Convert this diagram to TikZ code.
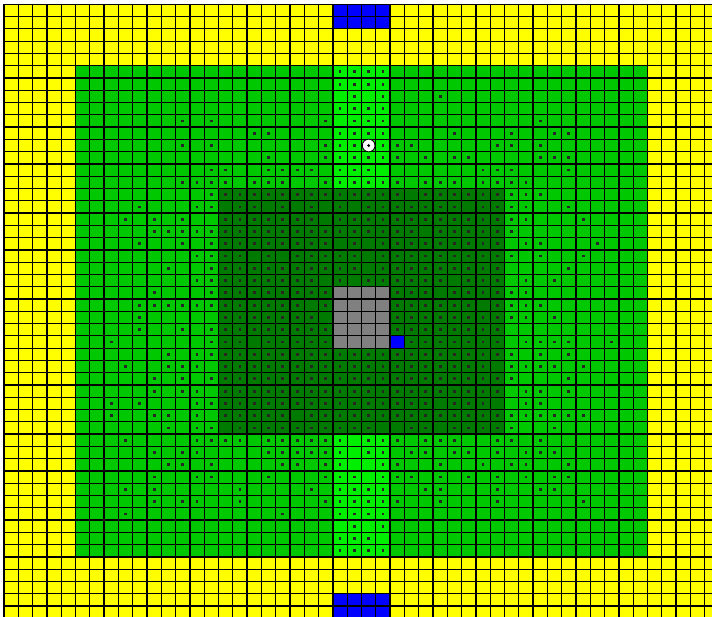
\documentclass[tikz,border=0pt]{standalone}
\usepackage{tikz}

\definecolor{sandyellow}{RGB}{255,255,0}
\definecolor{fieldgreen}{RGB}{0,200,0}
\definecolor{pathgreen}{RGB}{0,238,0}
\definecolor{forestgreen}{RGB}{0,122,0}
\definecolor{stonegray}{RGB}{128,128,128}
\definecolor{waterblue}{RGB}{0,0,255}

\newcommand{\cw}{14.3}
\newcommand{\ch}{12.28}
\newcommand{\ox}{4}
\newcommand{\oy}{4.3}
% cells from column i0 to i1, row j0 to j1
\newcommand{\cells}[5]{%
  \fill[#1] ({\ox+\cw*#2},{\oy+\ch*#4}) rectangle ({\ox+\cw*(#3+1)},{\oy+\ch*(#5+1)});}

\begin{document}
\begin{tikzpicture}[
  x=0.025cm, y=-0.025cm,
  gridline/.style={draw=black, line width=0.9pt},
  agent/.style={circle, draw=black, fill=white, line width=0.6pt, minimum size=9pt, inner sep=0pt},
  dot/.style={fill=black!85}
]
\useasboundingbox (0,0) rectangle (712,617);
\clip (0,0) rectangle (712,617);
\fill[white] (0,0) rectangle (712,617);

% Regions
\cells{sandyellow}{0}{49}{0}{49}
\cells{fieldgreen}{5}{44}{5}{44}
\cells{pathgreen}{23}{26}{5}{44}
\cells{forestgreen}{15}{34}{15}{34}
\cells{stonegray}{23}{26}{23}{27}
\cells{waterblue}{27}{27}{27}{27}
\cells{waterblue}{23}{26}{0}{1}
\cells{waterblue}{23}{26}{48}{49}

% Markers
\pgfmathsetseed{7}
\foreach \i in {5,...,44}{
  \foreach \j in {5,...,44}{
    \pgfmathtruncatemacro{\d}{max(max(15-\i,\i-34,0),max(15-\j,\j-34,0))}
    \ifnum\d=0 \def\p{92}\else \pgfmathtruncatemacro{\p}{75-9*\d}\fi
    \ifnum\i>22 \ifnum\i<27 \ifnum\d>0 \def\p{85}\fi\fi\fi
    \ifnum\i>22 \ifnum\i<27 \ifnum\j>22 \ifnum\j<28 \def\p{0}\fi\fi\fi\fi
    \ifnum\i=27 \ifnum\j=27 \def\p{0}\fi\fi
    \ifnum\i=25 \ifnum\j=11 \def\p{0}\fi\fi
    \pgfmathrandominteger{\r}{0}{99}
    \ifnum\r<\p
      \fill[dot] ({\ox+\cw*(\i+0.5)-1.4},{\oy+\ch*(\j+0.5)-1.4}) rectangle ++(2.8,2.8);
    \fi
  }
}

% Grid
\foreach \k in {0,...,50}{
  \draw[gridline] ({\ox+\cw*\k},\oy) -- ({\ox+\cw*\k},{\oy+\ch*50});
  \draw[gridline] (\ox,{\oy+\ch*\k}) -- ({\ox+\cw*50},{\oy+\ch*\k});
}

% Agent
\node[agent] (walker) at ({\ox+\cw*25.5},{\oy+\ch*11.5}) {};
\fill[black] (walker.center) circle (1.6);
\end{tikzpicture}
\end{document}
